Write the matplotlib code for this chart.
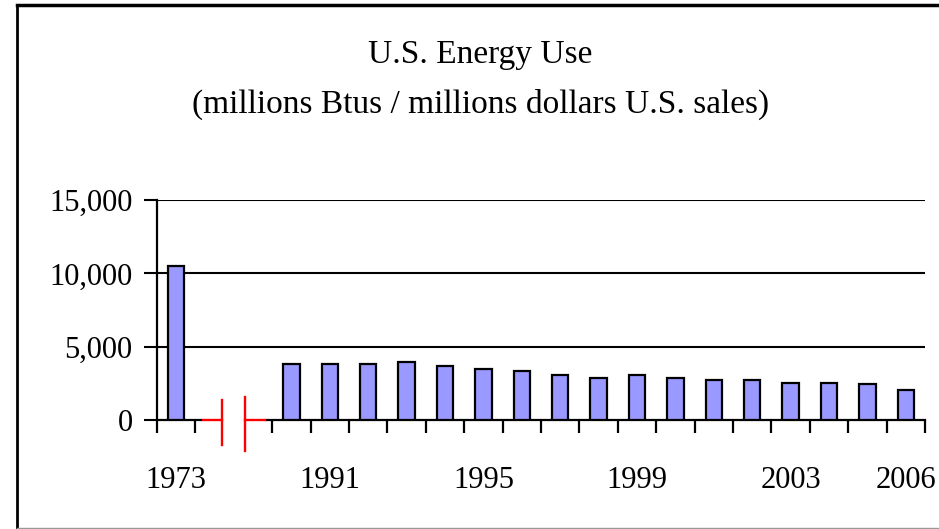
import numpy as np
import matplotlib.pyplot as plt
from matplotlib.lines import Line2D

# Energy use intensity, 1973 then 1990-2006
years = [1973] + list(range(1990, 2007))
values = [10500, 3800, 3800, 3800, 3950, 3650, 3500, 3350, 3080, 2850,
          3080, 2850, 2700, 2700, 2540, 2540, 2430, 2060]
shown_labels = [1973, 1991, 1995, 1999, 2003, 2006]
yticks = [0, 5000, 10000, 15000]

plt.rcParams['font.family'] = ['Liberation Serif', 'DejaVu Serif']

W, H = 939, 529
fig = plt.figure(figsize=(W / 100, H / 100), dpi=100)
ax = fig.add_axes([157 / W, 1 - 420 / H, (925 - 157) / W, 220 / H])

# slot 0 = 1973, slots 1-2 = gap for the axis break, slots 3.. = 1990-2006
pos = [0] + [3 + (y - 1990) for y in years[1:]]
ax.bar(pos, values, width=0.43, color='#9999ff', edgecolor='black',
       linewidth=1.6, zorder=3)

ax.set_xlim(-0.5, 19.5)
ax.set_ylim(0, 15000)
ax.set_yticks(yticks)
ax.set_yticklabels([f'{v:,}' for v in yticks])
for v in yticks[1:]:
    ax.axhline(v, color='black', linewidth=1.5, zorder=1)

for s in ['top', 'right', 'bottom']:
    ax.spines[s].set_visible(False)
ax.spines['left'].set_linewidth(1.6)

lab_pos = [pos[years.index(y)] for y in shown_labels]
ax.set_xticks(lab_pos)
ax.set_xticklabels([str(y) for y in shown_labels])
bounds = [-0.5, 0.5] + [p - 0.5 for p in pos[1:]] + [pos[-1] + 0.5]
ax.set_xticks(bounds, minor=True)
ax.tick_params(axis='x', which='major', length=0, pad=33, labelsize=22)
ax.tick_params(axis='x', which='minor', length=9.5, width=1.6, direction='out')
ax.tick_params(axis='y', length=9.5, width=1.5, pad=8, labelsize=22)

# broken baseline
tr = ax.get_xaxis_transform()
ax.plot([-0.5, 0.65], [0, 0], color='black', lw=1.6, transform=tr, clip_on=False)
ax.plot([2.35, 19.5], [0, 0], color='black', lw=1.6, transform=tr, clip_on=False)
red = '#ff0000'
ax.plot([0.7, 1.2], [0, 0], color=red, lw=1.7, transform=tr, clip_on=False)
ax.plot([1.2, 1.2], [0.09, -0.115], color=red, lw=1.7, transform=tr, clip_on=False)
ax.plot([1.78, 1.78], [0.105, -0.14], color=red, lw=1.7, transform=tr, clip_on=False)
ax.plot([1.78, 2.3], [0, 0], color=red, lw=1.7, transform=tr, clip_on=False)

fig.text(480 / W, 1 - 55 / H, 'U.S. Energy Use', ha='center', va='center', fontsize=24)
fig.text(481 / W, 1 - 104 / H, '(millions Btus / millions dollars U.S. sales)',
         ha='center', va='center', fontsize=24)

# outer frame
fig.add_artist(Line2D([17 / W, 17 / W], [1 - 5 / H, 1 - 528 / H], color='black',
                      lw=2, transform=fig.transFigure))
fig.add_artist(Line2D([17 / W, 1], [1 - 5 / H, 1 - 5 / H], color='black',
                      lw=2.5, transform=fig.transFigure))
fig.add_artist(Line2D([17 / W, 1], [1 - 528 / H, 1 - 528 / H], color='#999999',
                      lw=1, transform=fig.transFigure))

fig.savefig('out.png', dpi=100)
